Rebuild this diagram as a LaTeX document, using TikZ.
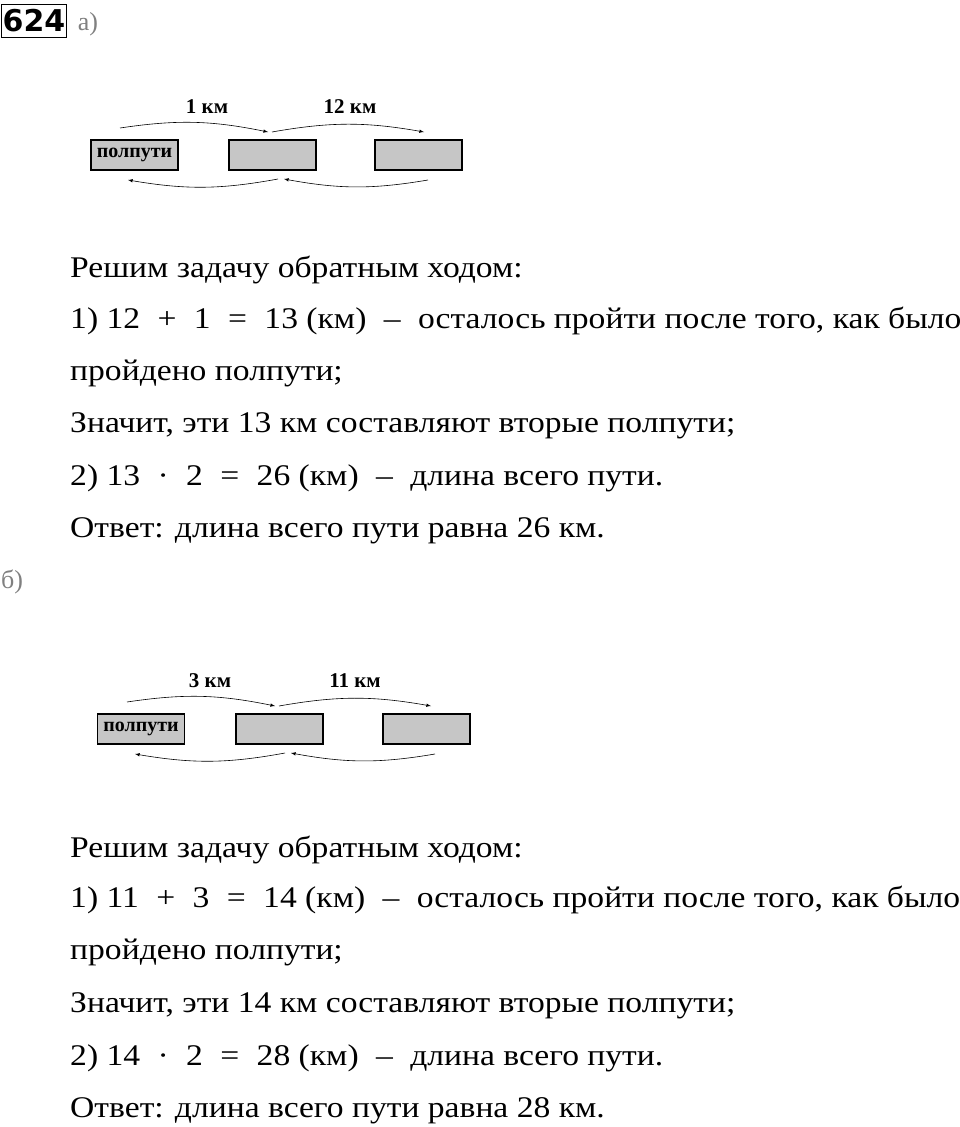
\documentclass[tikz,border=0pt]{standalone}
\usepackage{fontspec}
\setmainfont{Liberation Serif}
\newfontfamily\txtfont[FakeStretch=1.12]{Liberation Serif}
\newfontfamily\hfont{DejaVu Sans}
\newcommand{\op}[1]{\hspace{0.3em}#1\hspace{0.3em}}
\begin{document}
\begin{tikzpicture}[x=1pt,y=-1pt,
 box/.style={draw,line width=1.3pt,fill=gray!45,minimum width=87pt,minimum height=30pt,inner sep=0pt},
 arr/.style={-latex,line width=0.6pt},
 lab/.style={font=\fontsize{21}{21}\selectfont\bfseries},
 inlab/.style={font=\fontsize{20}{20}\selectfont\bfseries},
 txt/.style={anchor=base west,inner sep=0pt,font=\txtfont\fontsize{30}{30}\selectfont}]
\useasboundingbox (0,0) rectangle (960,1127);
\node[draw,line width=1.5pt,inner sep=1pt,font=\hfont\bfseries\fontsize{30}{30}\selectfont,minimum width=63pt,minimum height=33pt] (n) at (34,21) {624};
\node[text=gray,font=\fontsize{26}{26}\selectfont] (a) at (88,24) {а)};
% diagram a
\node[box] (a1) at (134.5,155) {};
\node[inlab] at (a1) {полпути};
\node[box] (a2) at (272.5,155) {};
\node[box] (a3) at (418.5,155) {};
\coordinate (at0) at (120,128); \coordinate (at1) at (268,132); \coordinate (at2) at (272,132); \coordinate (at3) at (424,132);
\draw[arr] (at0) to[bend left=10] (at1);
\draw[arr] (at2) to[bend left=10] (at3);
\coordinate (ab0) at (128,180); \coordinate (ab1) at (278,179); \coordinate (ab2) at (284,179); \coordinate (ab3) at (428,180);
\draw[arr] (ab1) to[bend left=10] (ab0);
\draw[arr] (ab3) to[bend left=10] (ab2);
\node[lab] (l1) at (207,107) {1 км};
\node[lab] (l2) at (350,107) {12 км};
\node[txt] at (70,277) {Решим задачу обратным ходом:};
\node[txt] at (70,328) {1) 12 \op{+} 1 \op{=} 13 (км) \op{–} осталось пройти после того, как было};
\node[txt] at (70,380) {пройдено полпути;};
\node[txt] at (70,432) {Значит, эти 13 км составляют вторые полпути;};
\node[txt] at (70,485) {2) 13 \op{·} 2 \op{=} 26 (км) \op{–} длина всего пути.};
\node[txt] at (70,537) {Ответ: длина всего пути равна 26 км.};
\node[text=gray,font=\fontsize{26}{26}\selectfont] (b) at (12,582) {б)};
% diagram b
\node[box] (b1) at (141,729) {};
\node[inlab] at (b1) {полпути};
\node[box] (b2) at (279.5,729) {};
\node[box] (b3) at (426.5,729) {};
\coordinate (bt0) at (127,702); \coordinate (bt1) at (275,706); \coordinate (bt2) at (279,706); \coordinate (bt3) at (431,706);
\draw[arr] (bt0) to[bend left=10] (bt1);
\draw[arr] (bt2) to[bend left=10] (bt3);
\coordinate (bb0) at (135,754); \coordinate (bb1) at (285,753); \coordinate (bb2) at (291,753); \coordinate (bb3) at (435,754);
\draw[arr] (bb1) to[bend left=10] (bb0);
\draw[arr] (bb3) to[bend left=10] (bb2);
\node[lab] (m1) at (210,681) {3 км};
\node[lab] (m2) at (355,681) {11 км};
\node[txt] at (70,857) {Решим задачу обратным ходом:};
\node[txt] at (70,907) {1) 11 \op{+} 3 \op{=} 14 (км) \op{–} осталось пройти после того, как было};
\node[txt] at (70,959) {пройдено полпути;};
\node[txt] at (70,1012) {Значит, эти 14 км составляют вторые полпути;};
\node[txt] at (70,1065) {2) 14 \op{·} 2 \op{=} 28 (км) \op{–} длина всего пути.};
\node[txt] at (70,1117) {Ответ: длина всего пути равна 28 км.};
\end{tikzpicture}
\end{document}
